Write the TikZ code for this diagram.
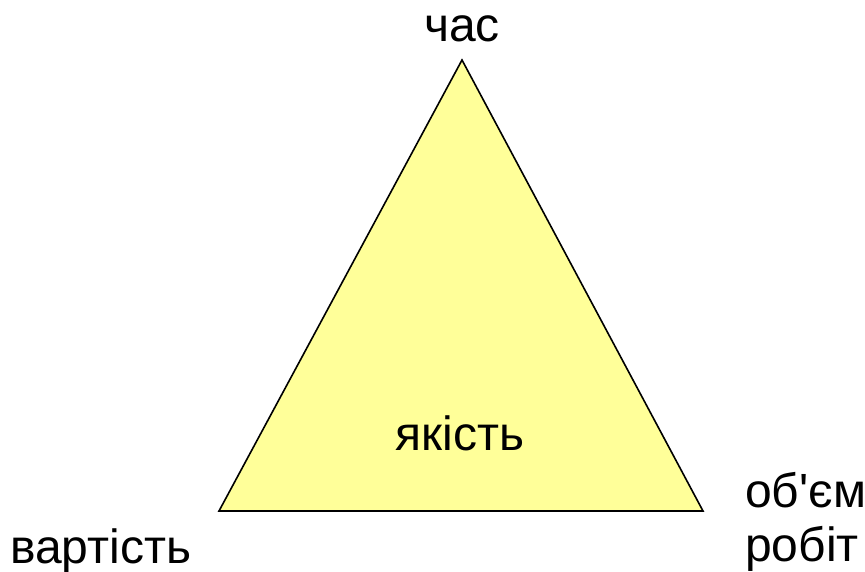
\documentclass[tikz,border=0pt]{standalone}
\usepackage{fontspec}
\newfontfamily\lab{Liberation Sans}
\definecolor{triyellow}{HTML}{FFFF99}
\begin{document}
\begin{tikzpicture}[x=1pt,y=1pt,
  lbl/.style={inner sep=0pt,font=\lab\fontsize{48}{54}\selectfont,text=black},
  tri/.style={draw=black,line width=1.6pt,fill=triyellow,line join=miter}]
\useasboundingbox (0,0) rectangle (865,571);
\coordinate (apex) at (462,511);
\coordinate (bl) at (219,60);
\coordinate (br) at (703,60);
\draw[tri] (apex) -- (br) -- (bl) -- cycle;
\node[lbl,anchor=base] (chas) at (462,529) {час};
\node[lbl,anchor=base] (yakist) at (460,121) {якість};
\node[lbl,anchor=base west] (vartist) at (10,8) {вартість};
\node[lbl,anchor=base west] (obem) at (745,64) {об'єм};
\node[lbl,anchor=base west] (robit) at (745,10) {робіт};
\end{tikzpicture}
\end{document}
